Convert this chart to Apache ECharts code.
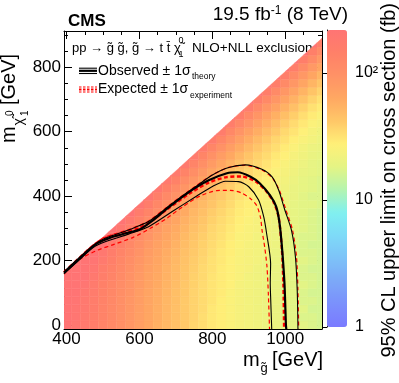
<!DOCTYPE html>
<html>
<head>
<meta charset="utf-8">
<script src="https://cdn.jsdelivr.net/npm/echarts@6/dist/echarts.min.js"></script>
<style>
  html, body { margin: 0; padding: 0; background: #fff; }
  #chart { width: 399px; height: 383px; }
</style>
</head>
<body>
<div id="chart"></div>
<script>
// gluino masses of the heatmap columns (GeV), LSP rows every 25 GeV from 0
const gluinoMasses = [400, 425, 450, 475, 500, 525, 550, 575, 600, 625, 650, 675, 700, 725, 750,
  775, 800, 825, 850, 875, 900, 925, 950, 975, 1000, 1025, 1050, 1075, 1100];
const lspStep = 25;
// kinematic edge of the scanned region, [m_gluino, m_LSP] at both ends
const edgeStart = [393, 163];
const edgeEnd = [1101, 890];

// 95% CL upper limit (fb), one column per gluino mass, bottom (m_LSP = 0) to top
const limitColumns = [
  [226, 231, 238, 247, 260, 278, 305, 345, 410],
  [198, 201, 206, 213, 222, 235, 253, 280, 320, 385],
  [175, 178, 181, 186, 193, 202, 215, 233, 260, 300, 365],
  [153, 155, 158, 161, 166, 173, 182, 195, 213, 240, 280, 345],
  [131, 133, 135, 138, 141, 146, 153, 162, 175, 193, 220, 260, 325],
  [115, 116, 118, 120, 123, 126, 131, 138, 147, 160, 178, 205, 245, 310],
  [99, 100, 101, 103, 105, 108, 111, 116, 123, 132, 145, 163, 190, 230, 295],
  [86, 87, 88, 89, 91, 93, 96, 99, 104, 111, 120, 133, 151, 178, 218, 283],
  [74, 75, 76, 77, 78, 80, 82, 85, 88, 93, 100, 109, 122, 140, 167, 207, 272],
  [65, 65, 66, 67, 68, 69, 71, 73, 76, 79, 84, 91, 100, 113, 131, 158, 198, 263],
  [57, 58, 58, 59, 60, 61, 62, 64, 66, 69, 72, 77, 84, 93, 106, 124, 151, 191, 256],
  [51, 51, 52, 52, 53, 54, 55, 56, 58, 60, 63, 66, 71, 78, 87, 100, 118, 145, 185, 250],
  [46, 46, 46, 47, 47, 48, 49, 50, 51, 53, 55, 58, 61, 66, 73, 82, 95, 113, 140, 180, 245],
  [41, 41, 41, 41, 42, 42, 43, 44, 45, 46, 48, 50, 53, 56, 61, 68, 77, 90, 108, 135, 175, 240],
  [36, 37, 37, 37, 37, 38, 38, 39, 40, 41, 42, 44, 46, 49, 52, 57, 64, 73, 86, 104, 131, 171, 236],
  [33, 33, 34, 34, 34, 34, 35, 35, 36, 37, 38, 39, 41, 43, 46, 49, 54, 61, 70, 83, 101, 128, 168, 233],
  [30, 30, 30, 31, 31, 31, 31, 32, 32, 33, 34, 35, 36, 38, 40, 43, 46, 51, 58, 67, 80, 98, 125, 165, 230],
  [28, 28, 28, 28, 29, 29, 29, 29, 30, 30, 31, 32, 33, 34, 36, 38, 41, 44, 49, 56, 65, 78, 96, 123, 163, 228],
  [26, 26, 26, 26, 26, 27, 27, 27, 27, 28, 28, 29, 30, 31, 32, 34, 36, 39, 42, 47, 54, 63, 76, 94, 121, 161, 226],
  [24, 24, 24, 24, 24, 24, 25, 25, 25, 25, 26, 26, 27, 28, 29, 30, 32, 34, 37, 40, 45, 52, 61, 74, 92, 119, 159, 224],
  [23, 23, 23, 23, 23, 23, 23, 24, 24, 24, 24, 25, 25, 26, 27, 28, 29, 31, 33, 36, 39, 44, 51, 60, 73, 91, 118, 158, 223],
  [22, 22, 22, 22, 22, 22, 22, 22, 23, 23, 23, 23, 24, 24, 25, 26, 27, 28, 30, 32, 35, 38, 43, 50, 59, 72, 90, 117, 157, 222],
  [21, 21, 21, 21, 21, 21, 21, 21, 21, 22, 22, 22, 22, 23, 23, 24, 25, 26, 27, 29, 31, 34, 37, 42, 49, 58, 71, 89, 116, 156, 221],
  [20, 20, 20, 20, 20, 20, 20, 20, 20, 20, 21, 21, 21, 21, 22, 22, 23, 24, 25, 26, 28, 30, 33, 36, 41, 48, 57, 70, 88, 115, 155, 220],
  [19, 19, 19, 19, 19, 19, 19, 19, 19, 19, 19, 20, 20, 20, 20, 21, 21, 22, 23, 24, 25, 27, 29, 32, 35, 40, 47, 56, 69, 87, 114, 154, 219],
  [18, 18, 18, 18, 18, 18, 18, 18, 18, 18, 18, 18, 19, 19, 19, 19, 20, 20, 21, 22, 23, 24, 26, 28, 31, 34, 39, 46, 55, 68, 86, 113, 153, 218],
  [18, 17, 18, 17, 17, 18, 17, 17, 18, 17, 17, 17, 18, 18, 18, 18, 18, 19, 19, 20, 21, 22, 23, 25, 27, 30, 33, 38, 45, 54, 67, 85, 112, 152, 217],
  [17, 17, 16, 17, 16, 17, 17, 16, 17, 17, 16, 17, 17, 17, 17, 18, 17, 18, 18, 19, 19, 20, 21, 23, 24, 26, 29, 32, 37, 44, 53, 66, 84, 111, 151, 216],
  [16, 16, 16, 16, 16, 16, 16, 16, 16, 16, 16, 16, 16, 16, 16, 17, 17, 17, 17, 18, 18, 19, 20, 21, 22, 24, 26, 29, 32, 37, 44, 53, 66, 84, 111, 151, 216]
];

// exclusion contours [m_gluino, m_LSP]
const obsContour = [[393, 162], [430, 200], [460, 232], [485, 254], [520, 271], [560, 284], [600, 296],
  [634, 322], [680, 365], [735, 412], [790, 449], [840, 471], [870, 474], [905, 460], [930, 440],
  [958, 403], [975, 368], [984, 320], [991, 243], [998, 129], [1002, 0], [1003, -12.5]];
const obsContourUp = [[393, 165], [430, 204], [474, 248], [506, 269], [570, 295], [625, 321], [690, 377],
  [754, 429], [799, 465], [845, 489], [891, 497], [936, 483], [964, 460], [982, 419], [999, 357],
  [1017, 295], [1028, 212], [1033, 108], [1035, -12.5]];
const obsContourDown = [[393, 159], [430, 197], [474, 241], [506, 258], [570, 282], [625, 305], [690, 352],
  [754, 398], [799, 429], [836, 446], [872, 445], [900, 429], [927, 388], [941, 336], [949, 284],
  [960, 191], [959, 129], [960, 88], [963, -12.5]];
const expContour = [[393, 163], [440, 212], [474, 247], [506, 270], [570, 291], [600, 301], [634, 325],
  [680, 362], [735, 406], [790, 442], [840, 459], [880, 461], [918, 446], [946, 418], [968, 382],
  [982, 335], [991, 233], [995, 129], [997, -12.5]];
const expContourUp = [[393, 166], [440, 216], [474, 250], [506, 273], [570, 296], [625, 323], [690, 379],
  [754, 431], [800, 466], [845, 489], [890, 496], [936, 481], [964, 457], [984, 418], [1002, 357],
  [1020, 295], [1031, 212], [1035, 108], [1037, -12.5]];
const expContourDown = [[393, 158], [420, 190], [445, 210], [487, 233], [530, 250], [583, 272], [630, 300],
  [675, 331], [720, 368], [766, 400], [812, 417], [849, 418], [880, 410], [905, 392], [922, 370],
  [932, 335], [937, 290], [944, 240], [950, 181], [954, 90], [957, -12.5]];

// axis ticks
const xMajorTicks = [400, 600, 800, 1000];
const xMinorTicks = [450, 500, 550, 650, 700, 750, 850, 900, 950, 1050];
const yMajorTicks = [0, 200, 400, 600, 800];
const yMinorTicks = [50, 100, 150, 250, 300, 350, 450, 500, 550, 650, 700, 750, 850, 900];
const zMajorTicks = [1, 10, 100];
const zMinorTicks = [2, 3, 4, 5, 6, 7, 8, 9, 20, 30, 40, 50, 60, 70, 80, 90, 200];
const zMax = 218;

// pastel rainbow of the z scale, evenly spread over log10(1 .. zMax)
const paletteColors = ['#7a7aff', '#7b90fc', '#7ca8f8', '#7dc2f8', '#7edaf8', '#80f0f0', '#b4f4b0',
  '#e4f484', '#fff078', '#ffc868', '#ffa862', '#ff9266', '#ff8068', '#ff7474'];

const FONT = 'Liberation Sans, Arial, sans-serif';

// heatmap cells [m_gluino, m_LSP, log10(limit)]
let cells = [];
for (let i = 0; i < gluinoMasses.length; i++) {
  for (let j = 0; j < limitColumns[i].length; j++) {
    cells.push([gluinoMasses[i], j * lspStep, Math.log10(limitColumns[i][j])]);
  }
}

// cut a cell polygon along the kinematic edge (keep the part below it)
function clipToEdge(poly) {
  let out = [];
  const slope = (edgeEnd[1] - edgeStart[1]) / (edgeEnd[0] - edgeStart[0]);
  const f = p => edgeStart[1] + slope * (p[0] - edgeStart[0]) - p[1];
  for (let i = 0; i < poly.length; i++) {
    const a = poly[i], b = poly[(i + 1) % poly.length];
    const fa = f(a), fb = f(b);
    if (fa >= 0) out.push(a);
    if ((fa >= 0) !== (fb >= 0)) {
      const t = fa / (fa - fb);
      out.push([a[0] + t * (b[0] - a[0]), a[1] + t * (b[1] - a[1])]);
    }
  }
  return out;
}

function renderCell(params, api) {
  const mg = api.value(0), ml = api.value(1), h = lspStep / 2;
  const poly = clipToEdge([[mg - h, ml - h], [mg + h, ml - h], [mg + h, ml + h], [mg - h, ml + h]]);
  if (poly.length < 3) return null;
  const color = api.visual('color');
  return {
    type: 'polygon',
    shape: { points: poly.map(p => api.coord(p)) },
    style: { fill: color, stroke: color, lineWidth: 0.5 }
  };
}

function contour(data, color, width, dash, z) {
  return {
    type: 'line', data: data, xAxisIndex: 0, yAxisIndex: 0,
    showSymbol: false, symbol: 'none', smooth: 0.25, silent: true, z: z,
    lineStyle: { color: color, width: width, type: dash }
  };
}

function frameAxis(kind, pos, min, max, ticks, len, labels, line) {
  return {
    type: 'value', gridIndex: 0, position: pos, min: min, max: max,
    axisLine: { show: line, onZero: false, lineStyle: { color: '#000', width: 1 } },
    axisTick: { show: true, inside: true, length: len, customValues: ticks, lineStyle: { color: '#000', width: 1 } },
    axisLabel: labels ? { show: true, customValues: ticks, fontSize: 17, fontFamily: FONT, color: '#000',
                          margin: kind === 'x' ? 2 : 3, formatter: v => String(v) }
                      : { show: false },
    splitLine: { show: false }
  };
}

const chart = echarts.init(document.getElementById('chart'), null, { renderer: 'canvas' });

const txt = (x, y, text, size, extra) => ({
  type: 'text', x: x, y: y, silent: true,
  style: Object.assign({ text: text, fontSize: size, fontFamily: FONT, fill: '#000',
    align: 'left', verticalAlign: 'middle', textAlign: 'left', textVerticalAlign: 'middle' }, extra || {})
});
const seg = (x1, y1, x2, y2, color, w, dash) => ({
  type: 'line', silent: true, shape: { x1: x1, y1: y1, x2: x2, y2: y2 },
  style: { stroke: color, lineWidth: w, lineDash: dash || null }
});

let zTitle = txt(0, 0, '95% CL upper limit on cross section (fb)', 20, { align: 'right', textAlign: 'right' });
zTitle.x = 389;
zTitle.y = 3;
zTitle.rotation = Math.PI / 2;

chart.setOption({
  animation: false,
  textStyle: { fontFamily: FONT, color: '#000' },
  grid: [
    { left: 64, top: 31, width: 258, height: 298, show: false, containLabel: false, outerBoundsMode: 'none' },
    { left: 327, top: 30, width: 20, height: 297, show: false, containLabel: false, outerBoundsMode: 'none' }
  ],
  xAxis: [
    frameAxis('x', 'bottom', 393, 1101, xMajorTicks, 8, true, true),
    frameAxis('x', 'bottom', 393, 1101, xMinorTicks, 4, false, false),
    frameAxis('x', 'top', 393, 1101, xMajorTicks, 8, false, true),
    frameAxis('x', 'top', 393, 1101, xMinorTicks, 4, false, false),
    { type: 'value', gridIndex: 1, min: 0, max: 1, show: false }
  ],
  yAxis: [
    frameAxis('y', 'left', -12.5, 912.5, yMajorTicks, 8, true, true),
    frameAxis('y', 'left', -12.5, 912.5, yMinorTicks, 4, false, false),
    frameAxis('y', 'right', -12.5, 912.5, yMajorTicks, 8, false, true),
    frameAxis('y', 'right', -12.5, 912.5, yMinorTicks, 4, false, false),
    {
      type: 'value', gridIndex: 1, position: 'right', min: 0, max: Math.log10(zMax),
      axisLine: { show: true, lineStyle: { color: '#000', width: 1 } },
      axisTick: { show: true, inside: true, length: 7, customValues: zMajorTicks.map(Math.log10), lineStyle: { color: '#000' } },
      axisLabel: {
        show: true, customValues: zMajorTicks.map(Math.log10), fontSize: 16, fontFamily: FONT, color: '#000', margin: 8,
        formatter: v => ({ 0: '1', 1: '10', 2: '10²' })[Math.round(v)]
      },
      splitLine: { show: false }
    },
    {
      type: 'value', gridIndex: 1, position: 'right', min: 0, max: Math.log10(zMax),
      axisLine: { show: false },
      axisTick: { show: true, inside: true, length: 4, customValues: zMinorTicks.map(Math.log10), lineStyle: { color: '#000' } },
      axisLabel: { show: false },
      splitLine: { show: false }
    }
  ],
  visualMap: {
    type: 'continuous', min: 0, max: Math.log10(zMax), dimension: 2, seriesIndex: 0,
    orient: 'vertical', left: 327, top: 30, itemWidth: 20, itemHeight: 297, padding: 0,
    calculable: false, hoverLink: false, showLabel: false,
    inRange: { color: paletteColors }
  },
  series: [
    {
      type: 'custom', xAxisIndex: 0, yAxisIndex: 0, clip: true, silent: true, z: 1,
      encode: { x: 0, y: 1 }, renderItem: renderCell, data: cells
    },
    contour(expContourDown, '#ff0000', 1.2, [4, 3], 3),
    contour(expContourUp, '#ff0000', 1.2, [4, 3], 3),
    contour(expContour, '#ff0000', 2.4, [4, 2.5], 4),
    contour(obsContourDown, '#000', 1.1, 'solid', 5),
    contour(obsContourUp, '#000', 1.1, 'solid', 5),
    contour(obsContour, '#000', 2.2, 'solid', 6)
  ],
  graphic: [
    txt(68, 21, 'CMS', 17, { fontWeight: 'bold' }),
    {
      type: 'text', x: 348, y: 15, silent: true,
      style: {
        text: '{a|19.5 fb}{s|-1}{a| (8 TeV)}', align: 'right', verticalAlign: 'middle',
        rich: {
          a: { fontSize: 19, fontFamily: FONT, fill: '#000', lineHeight: 20 },
          s: { fontSize: 12, fontFamily: FONT, fill: '#000', verticalAlign: 'top', lineHeight: 12 }
        }
      }
    },
    // process line
    txt(72, 48, 'pp → g̃ g̃, g̃ → t t̄ χ̃', 13),
    txt(178.5, 41, '0', 9),
    txt(178.5, 55, '1', 9),
    txt(192, 48, 'NLO+NLL exclusion', 13.5),
    // legend entries
    seg(79, 68.2, 97, 68.2, '#000', 1.1),
    seg(79, 70.8, 97, 70.8, '#000', 2.2),
    seg(79, 73.5, 97, 73.5, '#000', 1.1),
    txt(98, 71, 'Observed ± 1σ', 14),
    txt(192, 77, 'theory', 8.5),
    seg(79, 87, 97, 87, '#ff0000', 1.2, [2.5, 1.5]),
    seg(79, 89.5, 97, 89.5, '#ff0000', 2.2, [2.5, 1.5]),
    seg(79, 92, 97, 92, '#ff0000', 1.2, [2.5, 1.5]),
    txt(98, 89.6, 'Expected ± 1σ', 14),
    txt(190, 95.5, 'experiment', 8.5),
    // x title
    txt(243, 360, 'm', 20),
    txt(260.5, 368, 'g̃', 13),
    txt(272, 360, '[GeV]', 20),
    // y title
    {
      type: 'group', x: 9, y: 143, rotation: Math.PI / 2, silent: true,
      children: [
        txt(0, 0, 'm', 20),
        txt(17.5, 10, 'χ̃', 14),
        txt(27, 1, '0', 10),
        txt(27, 16, '1', 10),
        txt(38, 0, '[GeV]', 20)
      ]
    },
    zTitle
  ]
});
</script>
</body>
</html>
